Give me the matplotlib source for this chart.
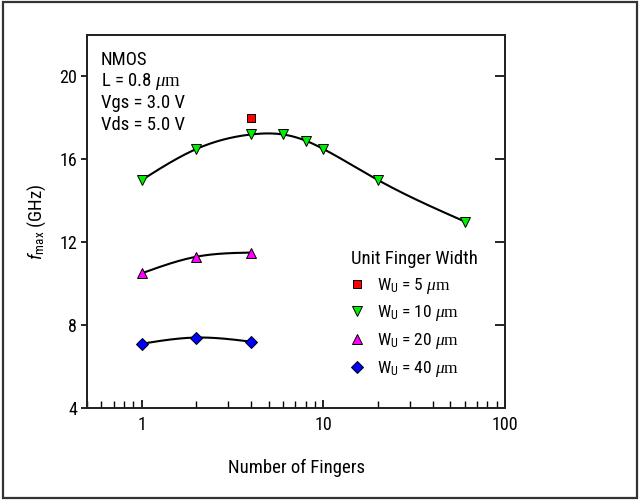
import numpy as np
import matplotlib
matplotlib.use("Agg")
import matplotlib.pyplot as plt
from matplotlib.lines import Line2D
from matplotlib.patches import Rectangle
from matplotlib.ticker import LogLocator, NullFormatter, FixedLocator

sans = 'Roboto Condensed'
plt.rcParams['font.family'] = [sans, 'Liberation Sans', 'DejaVu Sans']
plt.rcParams['mathtext.fontset'] = 'custom'
plt.rcParams['mathtext.rm'] = 'Liberation Serif'
plt.rcParams['mathtext.it'] = 'Liberation Serif:italic'
plt.rcParams['mathtext.sf'] = sans
plt.rcParams['mathtext.bf'] = sans + ':italic'

# fmax vs number of fingers, one series per unit finger width
fingers_5 = [4]
fmax_5 = [18.0]

fingers_10 = [1, 2, 4, 6, 8, 10, 20, 60]
fmax_10 = [15.0, 16.5, 17.2, 17.2, 16.9, 16.5, 15.0, 13.0]

fingers_20 = [1, 2, 4]
fmax_20 = [10.5, 11.3, 11.5]

fingers_40 = [1, 2, 4]
fmax_40 = [7.1, 7.4, 7.2]

conditions = ["NMOS", r"L = 0.8 $\mu\mathrm{m}$", "Vgs = 3.0 V", "Vds = 5.0 V"]
legend_labels = [r"W$_\mathsf{U}$ = 5 $\mu\mathrm{m}$",
                 r"W$_\mathsf{U}$ = 10 $\mu\mathrm{m}$",
                 r"W$_\mathsf{U}$ = 20 $\mu\mathrm{m}$",
                 r"W$_\mathsf{U}$ = 40 $\mu\mathrm{m}$"]


def natural_spline(x, y, n=200):
    """natural cubic spline through the points, evaluated on a fine grid"""
    x = np.asarray(x, float)
    y = np.asarray(y, float)
    k = len(x)
    h = np.diff(x)
    A = np.zeros((k, k))
    b = np.zeros(k)
    A[0, 0] = A[-1, -1] = 1.0
    for i in range(1, k - 1):
        A[i, i - 1] = h[i - 1]
        A[i, i] = 2 * (h[i - 1] + h[i])
        A[i, i + 1] = h[i]
        b[i] = 6 * ((y[i + 1] - y[i]) / h[i] - (y[i] - y[i - 1]) / h[i - 1])
    m = np.linalg.solve(A, b)
    xs = np.linspace(x[0], x[-1], n)
    idx = np.clip(np.searchsorted(x, xs) - 1, 0, k - 2)
    x0, x1 = x[idx], x[idx + 1]
    hh = x1 - x0
    t0, t1 = x1 - xs, xs - x0
    ys = (m[idx] * t0 ** 3 + m[idx + 1] * t1 ** 3) / (6 * hh) \
        + (y[idx] / hh - m[idx] * hh / 6) * t0 \
        + (y[idx + 1] / hh - m[idx + 1] * hh / 6) * t1
    return xs, ys


fig = plt.figure(figsize=(6.4, 5.0), dpi=100)
fig.patches.append(Rectangle((0.004, 0.004), 0.992, 0.992, transform=fig.transFigure,
                             fill=False, edgecolor='#333333', linewidth=1.6))
ax = fig.add_axes([0.136, 0.184, 0.653, 0.746])

# smooth curves drawn in log(x)
for fx, fy in [(fingers_10, fmax_10), (fingers_20, fmax_20), (fingers_40, fmax_40)]:
    lx, ly = natural_spline(np.log10(fx), fy)
    ax.plot(10 ** lx, ly, color='black', linewidth=1.5, zorder=2)

mk = dict(linestyle='none', markeredgecolor='black', markeredgewidth=0.7, zorder=3)
ax.plot(fingers_5, fmax_5, marker='s', color='#ff0000', markersize=6, **mk)
ax.plot(fingers_10, fmax_10, marker='v', color='#00ee00', markersize=7.5, **mk)
ax.plot(fingers_20, fmax_20, marker='^', color='#ff00ff', markersize=7.5, **mk)
ax.plot(fingers_40, fmax_40, marker='D', color='#0000ff', markersize=6.5, **mk)

ax.set_xscale('log')
ax.set_xlim(0.5, 100)
ax.set_ylim(4, 22)
ax.xaxis.set_major_locator(FixedLocator([1, 10, 100]))
ax.xaxis.set_minor_locator(LogLocator(base=10, subs=np.arange(2, 10)))
ax.xaxis.set_minor_formatter(NullFormatter())
ax.set_xticklabels(['1', '10', '100'])
ax.set_yticks([4, 8, 12, 16, 20])

ax.tick_params(axis='x', which='major', direction='in', length=6, width=1.2,
               labelsize=13, pad=6, top=False)
ax.tick_params(axis='x', which='minor', direction='in', length=5, width=1.0, top=False)
ax.tick_params(axis='y', which='major', direction='out', length=4, width=1.2,
               labelsize=13, pad=3, right=False)
# inward ticks on the right spine
ax_r = ax.twinx()
ax_r.set_ylim(ax.get_ylim())
ax_r.set_yticks([8, 12, 16, 20])
ax_r.tick_params(axis='y', direction='in', length=7, width=1.2, labelright=False)

for a in (ax, ax_r):
    for side in ['left', 'right', 'top', 'bottom']:
        a.spines[side].set_linewidth(1.3)
        a.spines[side].set_color('#222222')

ax.set_xlabel('Number of Fingers', fontsize=13.5, labelpad=18)
ax.set_ylabel(r'$\mathbf{f}_\mathsf{max}$ (GHz)', fontsize=13.5, labelpad=8)

for i, line in enumerate(conditions):
    ax.text(0.033, 0.933 - i * 0.058, line, transform=ax.transAxes, fontsize=13.5,
            ha='left', va='center')

handles = [
    Line2D([], [], marker='s', color='#ff0000', markersize=6, **mk),
    Line2D([], [], marker='v', color='#00ee00', markersize=7.5, **mk),
    Line2D([], [], marker='^', color='#ff00ff', markersize=7.5, **mk),
    Line2D([], [], marker='D', color='#0000ff', markersize=6.5, **mk),
]
leg = ax.legend(handles, legend_labels, title='Unit Finger Width', loc='upper left',
                bbox_to_anchor=(0.632, 0.424), frameon=False, fontsize=12.5,
                title_fontsize=13.5, handlelength=0.7, handletextpad=0.8,
                labelspacing=0.45, borderpad=0, borderaxespad=0, alignment='left')

fig.savefig('out.png', dpi=100)
